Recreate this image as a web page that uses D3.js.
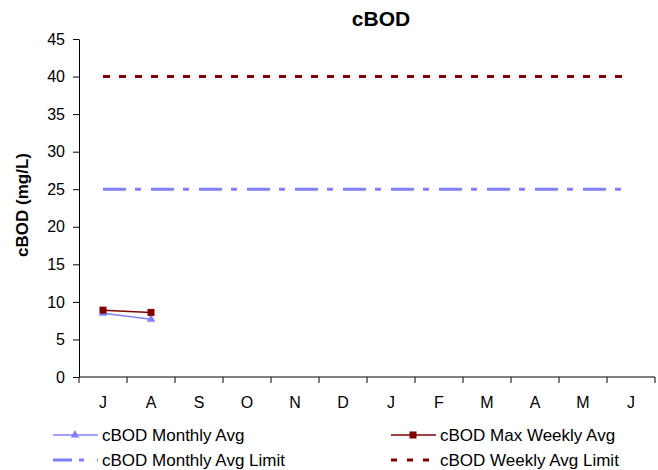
<!DOCTYPE html>
<html lang="en">
<head>
<meta charset="UTF-8">
<title>cBOD</title>
<script src="https://cdn.jsdelivr.net/npm/d3@7/dist/d3.min.js"></script>
<style>
    body { margin: 0; background: #fff; }
    svg text { font-family: "Liberation Sans", Arial, sans-serif; fill: #000; }
    .axis path, .axis line { stroke: #000; }
</style>
</head>
<body>
<div id="chart"></div>
<script>
    "use strict";

    var months = ['J', 'A', 'S', 'O', 'N', 'D', 'J', 'F', 'M', 'A', 'M', 'J'];
    var yTicks = [0, 5, 10, 15, 20, 25, 30, 35, 40, 45];
    var monthlyAvg = [8.5, 7.7];
    var maxWeeklyAvg = [8.9, 8.6];
    var monthlyLimit = 25;
    var weeklyLimit = 40;

    var width = 658, height = 470;
    var margin = { top: 39, right: 3, bottom: 93, left: 79 };

    var svg = d3.select('#chart').append('svg')
        .attr('width', width)
        .attr('height', height);

    var x = d3.scaleBand()
        .domain(d3.range(months.length))
        .range([margin.left, width - margin.right]);

    var y = d3.scaleLinear()
        .domain([0, 45])
        .range([height - margin.bottom, margin.top]);

    var cx = function(i) { return x(i) + x.bandwidth() / 2; };

    // title
    svg.append('text')
        .attr('x', 381).attr('y', 26)
        .attr('text-anchor', 'middle')
        .style('font-weight', 'bold').style('font-size', '21px')
        .text('cBOD');

    // y label
    svg.append('text')
        .attr('transform', 'translate(28,205) rotate(-90)')
        .attr('text-anchor', 'middle')
        .style('font-weight', 'bold').style('font-size', '17px')
        .text('cBOD (mg/L)');

    // y axis
    var yAxis = svg.append('g').attr('class', 'axis')
        .attr('transform', 'translate(' + margin.left + ',0)')
        .call(d3.axisLeft(y).tickValues(yTicks).tickSize(6).tickPadding(8).tickSizeOuter(0));
    yAxis.selectAll('text').style('font-size', '16px');

    // x axis (ticks between categories)
    var xg = svg.append('g').attr('class', 'axis')
        .attr('transform', 'translate(0,' + y(0) + ')');
    xg.append('line')
        .attr('x1', margin.left).attr('x2', width - margin.right)
        .attr('stroke', '#000');
    xg.selectAll('line.tick')
        .data(d3.range(months.length + 1))
        .enter().append('line')
        .attr('class', 'tick')
        .attr('x1', function(i) { return i < months.length ? x(i) : x(i - 1) + x.bandwidth(); })
        .attr('x2', function(i) { return i < months.length ? x(i) : x(i - 1) + x.bandwidth(); })
        .attr('y1', 0).attr('y2', 6)
        .attr('stroke', '#000');
    xg.selectAll('text')
        .data(months)
        .enter().append('text')
        .attr('x', function(d, i) { return cx(i); })
        .attr('y', 31)
        .attr('text-anchor', 'middle')
        .style('font-size', '16px')
        .text(function(d) { return d; });

    // limit lines
    var first = cx(0), last = cx(months.length - 1);
    svg.append('line')
        .attr('x1', first).attr('x2', last)
        .attr('y1', y(weeklyLimit)).attr('y2', y(weeklyLimit))
        .attr('stroke', '#800000').attr('stroke-width', 3)
        .attr('stroke-dasharray', '7,9');
    svg.append('line')
        .attr('x1', first).attr('x2', last)
        .attr('y1', y(monthlyLimit)).attr('y2', y(monthlyLimit))
        .attr('stroke', '#8080FF').attr('stroke-width', 3)
        .attr('stroke-dasharray', '23,9,6,10');

    var line = d3.line()
        .x(function(d, i) { return cx(i); })
        .y(function(d) { return y(d); });

    var tri = d3.symbol().type(d3.symbolTriangle).size(32);

    // monthly avg
    svg.append('path').datum(monthlyAvg)
        .attr('d', line)
        .attr('fill', 'none').attr('stroke', '#8080FF').attr('stroke-width', 1.5);
    svg.selectAll('path.tri').data(monthlyAvg).enter().append('path')
        .attr('class', 'tri')
        .attr('d', tri)
        .attr('transform', function(d, i) { return 'translate(' + cx(i) + ',' + y(d) + ')'; })
        .attr('fill', '#8080FF');

    // max weekly avg
    svg.append('path').datum(maxWeeklyAvg)
        .attr('d', line)
        .attr('fill', 'none').attr('stroke', '#800000').attr('stroke-width', 1.5);
    svg.selectAll('rect.sq').data(maxWeeklyAvg).enter().append('rect')
        .attr('class', 'sq')
        .attr('x', function(d, i) { return cx(i) - 3.5; })
        .attr('y', function(d) { return y(d) - 3.5; })
        .attr('width', 7).attr('height', 7)
        .attr('fill', '#800000');

    // legend
    var legend = [
        { label: 'cBOD Monthly Avg', x: 53, y: 435, color: '#8080FF', w: 1.5, dash: null, mark: 'tri' },
        { label: 'cBOD Max Weekly Avg', x: 391, y: 435, color: '#800000', w: 1.5, dash: null, mark: 'sq' },
        { label: 'cBOD Monthly Avg Limit', x: 53, y: 460, color: '#8080FF', w: 3, dash: '19,7,5,13', mark: null },
        { label: 'cBOD Weekly Avg Limit', x: 391, y: 460, color: '#800000', w: 3, dash: '6,10', mark: null }
    ];
    var lg = svg.selectAll('g.legend').data(legend).enter().append('g')
        .attr('class', 'legend')
        .attr('transform', function(d) { return 'translate(' + d.x + ',' + d.y + ')'; });
    lg.append('line')
        .attr('x1', 0).attr('x2', 45)
        .attr('stroke', function(d) { return d.color; })
        .attr('stroke-width', function(d) { return d.w; })
        .attr('stroke-dasharray', function(d) { return d.dash; });
    lg.filter(function(d) { return d.mark === 'tri'; }).append('path')
        .attr('d', tri).attr('transform', 'translate(22,0)')
        .attr('fill', function(d) { return d.color; });
    lg.filter(function(d) { return d.mark === 'sq'; }).append('rect')
        .attr('x', 18.5).attr('y', -3.5).attr('width', 7).attr('height', 7)
        .attr('fill', function(d) { return d.color; });
    lg.append('text')
        .attr('x', 49).attr('y', 6)
        .style('font-size', '17px')
        .text(function(d) { return d.label; });
</script>
</body>
</html>
